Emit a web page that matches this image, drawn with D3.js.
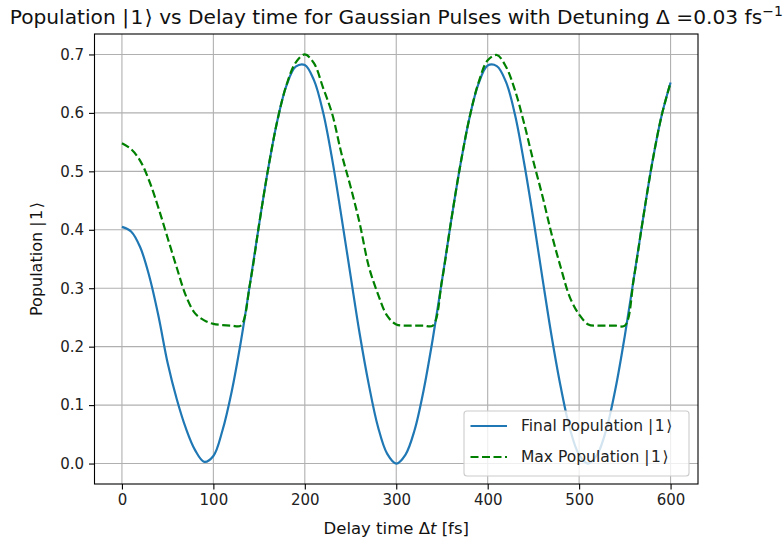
<!DOCTYPE html>
<html><head><meta charset="utf-8">
<script src="https://cdn.jsdelivr.net/npm/d3@7/dist/d3.min.js"></script>
<style>
body{margin:0;background:#fff;}
svg{display:block;font-family:"DejaVu Sans",sans-serif;}
</style>
</head><body>
<svg id="chart" width="784" height="544"></svg>
<script>
// ---- data ----
const delay = [0,10,20,30,40,50,60,70,80,90,100,110,120,130,140,150,160,170,180,190,
  200,210,220,230,240,250,260,270,280,290,300,310,320,330,340,350,360,370,380,390,
  400,410,420,430,440,450,460,470,480,490,500,510,520,530,540,550,560,570,580,590,600];
const finalPop = [0.405,0.397,0.370,0.320,0.252,0.172,0.110,0.060,0.023,0.003,
  0.013,0.057,0.123,0.208,0.307,0.409,0.505,0.587,0.647,0.679,
  0.682,0.656,0.601,0.520,0.423,0.322,0.222,0.135,0.063,0.017,
  0.000,0.015,0.057,0.126,0.214,0.313,0.415,0.510,0.591,0.650,
  0.681,0.680,0.653,0.596,0.513,0.418,0.316,0.217,0.130,0.059,
  0.015,0.000,0.016,0.060,0.130,0.219,0.319,0.420,0.515,0.594,0.652];
const maxPop = [0.548,0.538,0.518,0.483,0.437,0.386,0.335,0.287,0.257,0.245,
  0.239,0.237,0.236,0.236,0.307,0.409,0.505,0.587,0.648,0.686,
  0.700,0.685,0.643,0.598,0.531,0.474,0.411,0.337,0.290,0.253,
  0.238,0.236,0.236,0.236,0.236,0.313,0.415,0.510,0.591,0.652,
  0.690,0.699,0.679,0.638,0.581,0.517,0.457,0.392,0.335,0.284,
  0.255,0.238,0.236,0.236,0.236,0.236,0.319,0.420,0.515,0.594,0.652];
const xTicks = [0,100,200,300,400,500,600];
const yTicks = [0.0,0.1,0.2,0.3,0.4,0.5,0.6,0.7];
const seriesNames = ["Final Population","Max Population"];

// ---- layout ----
const L = 94.5, R = 698, T = 34, B = 484;
const svg = d3.select("#chart");

const x = d3.scaleLinear().domain([-30, 630]).range([L, R]);
const y = d3.scaleLinear().domain([-0.035, 0.735]).range([B, T]);

// helper: append a ket |1> like matplotlib mathtext
function ket(sel, gap) {
  sel.append("tspan").text(" |");
  sel.append("tspan").attr("dx", gap).text("1");
  sel.append("tspan").attr("dx", gap).text("\u27E9");
}

// grid
const grid = svg.append("g");
grid.selectAll("line.gx").data(xTicks).join("line")
  .attr("x1", d => x(d)).attr("x2", d => x(d)).attr("y1", T).attr("y2", B)
  .attr("stroke", "#b0b0b0").attr("stroke-width", 1.1);
grid.selectAll("line.gy").data(yTicks).join("line")
  .attr("y1", d => y(d)).attr("y2", d => y(d)).attr("x1", L).attr("x2", R)
  .attr("stroke", "#b0b0b0").attr("stroke-width", 1.1);

// lines
const line = (vals) => d3.line()
  .x((d, i) => x(delay[i])).y(d => y(d))
  .curve(d3.curveCatmullRom.alpha(0.5))(vals);

svg.append("clipPath").attr("id", "clip").append("rect")
  .attr("x", L).attr("y", T).attr("width", R - L).attr("height", B - T);

svg.append("path").attr("d", line(finalPop))
  .attr("fill", "none").attr("stroke", "#1f77b4").attr("stroke-width", 2.2)
  .attr("clip-path", "url(#clip)");
svg.append("path").attr("d", line(maxPop))
  .attr("fill", "none").attr("stroke", "#008000").attr("stroke-width", 2.2)
  .attr("stroke-dasharray", "8,3.5")
  .attr("clip-path", "url(#clip)");

// axes
const xAxis = d3.axisBottom(x).tickValues(xTicks).tickFormat(d3.format("d"))
  .tickSizeInner(5.5).tickSizeOuter(0).tickPadding(5);
const yAxis = d3.axisLeft(y).tickValues(yTicks).tickFormat(d3.format(".1f"))
  .tickSizeInner(5.5).tickSizeOuter(0).tickPadding(5);

const gx = svg.append("g").attr("transform", `translate(0,${B})`).call(xAxis);
const gy = svg.append("g").attr("transform", `translate(${L},0)`).call(yAxis);
[gx, gy].forEach(g => {
  g.select(".domain").remove();
  g.selectAll("line").attr("stroke", "#000").attr("stroke-width", 1.1);
  g.selectAll("text").attr("fill", "#222").style("font-size", "15px")
    .style("font-family", '"DejaVu Sans",sans-serif');
});

// spines
svg.append("rect").attr("x", L).attr("y", T).attr("width", R - L).attr("height", B - T)
  .attr("fill", "none").attr("stroke", "#000").attr("stroke-width", 1.1);

// title
const title = svg.append("text").attr("x", (L + R) / 2).attr("y", 24)
  .attr("text-anchor", "middle").style("font-size", "20.2px").attr("fill", "#111");
title.append("tspan").text("Population");
ket(title, 1.5);
title.append("tspan").text(" vs Delay time for Gaussian Pulses with Detuning \u0394 =0.03 fs");
title.append("tspan").attr("dy", -8).style("font-size", "14px").text("\u22121");

// axis labels
const xl = svg.append("text").attr("x", (L + R) / 2).attr("y", 534)
  .attr("text-anchor", "middle").style("font-size", "16.5px").attr("fill", "#111");
xl.append("tspan").text("Delay time \u0394");
xl.append("tspan").style("font-style", "italic").text("t");
xl.append("tspan").text(" [fs]");

const yl = svg.append("text").attr("transform", `translate(42,${(T + B) / 2}) rotate(-90)`)
  .attr("text-anchor", "middle").style("font-size", "16px").attr("fill", "#111");
yl.append("tspan").text("Population");
ket(yl, 1.5);

// legend
const lg = svg.append("g");
lg.append("rect").attr("x", 464).attr("y", 411).attr("width", 225).attr("height", 65)
  .attr("rx", 3).attr("fill", "#fff").attr("fill-opacity", 0.8)
  .attr("stroke", "#cccccc").attr("stroke-width", 1.1);
const legColors = ["#1f77b4", "#008000"];
const legDash = [null, "8,3.5"];
seriesNames.forEach((name, i) => {
  const ly = 426 + i * 31;
  lg.append("line").attr("x1", 470.5).attr("x2", 507).attr("y1", ly).attr("y2", ly)
    .attr("stroke", legColors[i]).attr("stroke-width", 2.2)
    .attr("stroke-dasharray", legDash[i]);
  const t = lg.append("text").attr("x", 521).attr("y", ly).attr("dy", "0.35em")
    .style("font-size", "15.5px").attr("fill", "#222");
  t.append("tspan").text(name);
  ket(t, 1.5);
});
</script>
</body></html>
